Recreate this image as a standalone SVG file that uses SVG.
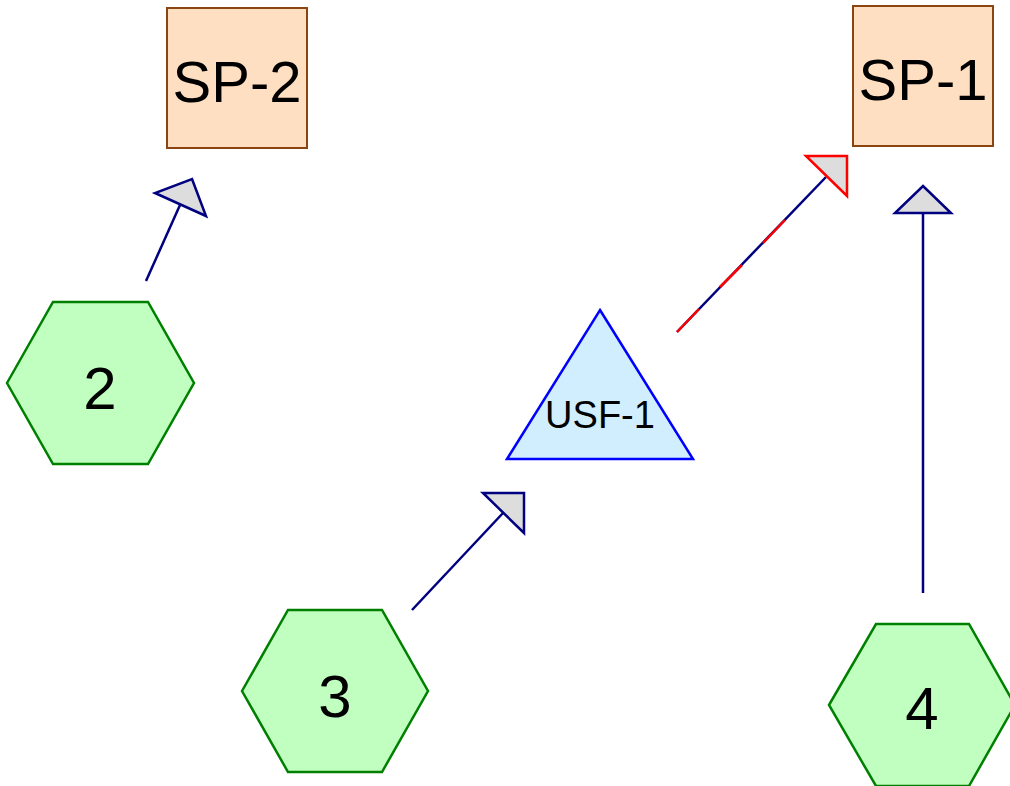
<svg xmlns="http://www.w3.org/2000/svg" width="1010" height="786" viewBox="0 0 1010 786">
<style>
.sp{fill:#ffdfc2;stroke:#8b4513;stroke-width:2}
.hex{fill:#c0ffc0;stroke:#008000;stroke-width:2.5}
.usf{fill:#d0eefe;stroke:#0000ff;stroke-width:2.5}
.t{font-family:"Liberation Sans",Arial,sans-serif;fill:#000;text-anchor:middle}
.edge{stroke:#000080;stroke-width:2.5;fill:none}
.red{stroke:#ff0000;stroke-width:2.5;fill:none}
.head{fill:#dddddd;stroke:#000080;stroke-width:2.5;stroke-linejoin:miter}
.headr{fill:#dddddd;stroke:#ff0000;stroke-width:2.5}
</style>
<rect width="1010" height="786" fill="#ffffff"/>
<g id="connectors">
  <line class="edge" x1="146" y1="281" x2="180" y2="205"/>
  <polygon class="head" points="192,179 206,216 155,193"/>
  <line class="edge" x1="923" y1="593" x2="923" y2="213"/>
  <polygon class="head" points="923,186 951,213 895,213"/>
  <line class="edge" x1="412" y1="610" x2="503" y2="513"/>
  <polygon class="head" points="524,493 524,533 483,493"/>
  <line class="edge" x1="677" y1="332" x2="826" y2="177"/>
  <line class="red" x1="677" y1="332" x2="699" y2="309"/>
  <line class="red" x1="720" y1="287" x2="742" y2="265"/>
  <line class="red" x1="763" y1="243" x2="785" y2="220"/>
  <polygon class="headr" points="847,156 847,196 806,156"/>
</g>
<g id="SP-2">
  <rect class="sp" x="167" y="8" width="140" height="140"/>
  <text class="t" x="237" y="102" font-size="58">SP-2</text>
</g>
<g id="SP-1">
  <rect class="sp" x="853" y="6" width="140" height="140"/>
  <text class="t" x="923" y="100" font-size="58">SP-1</text>
</g>
<g id="USF-1">
  <polygon class="usf" points="600,310 693,459 507,459"/>
  <text class="t" x="600" y="428" font-size="38">USF-1</text>
</g>
<g id="n2">
  <polygon class="hex" points="7,383 53,302 148,302 194,383 148,464 53,464"/>
  <text class="t" x="100" y="409" font-size="60">2</text>
</g>
<g id="n3">
  <polygon class="hex" points="242,691 288,610 382,610 428,691 382,772 288,772"/>
  <text class="t" x="335" y="717" font-size="60">3</text>
</g>
<g id="n4">
  <polygon class="hex" points="829,705 876,624 969,624 1015,705 969,786 876,786"/>
  <text class="t" x="922" y="729" font-size="60">4</text>
</g>
</svg>
